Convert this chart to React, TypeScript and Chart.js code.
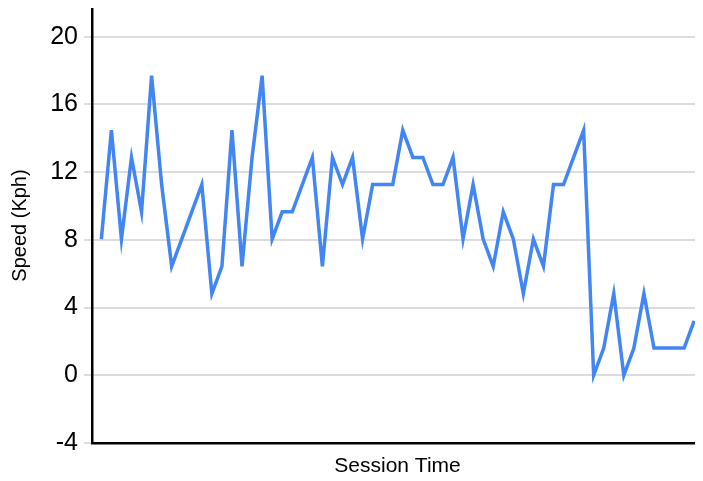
import React, { useEffect, useRef } from "react";
import { Chart, registerables } from "chart.js";

Chart.register(...registerables);

// Speed samples (Kph) over the session, one per sample index
const speeds: number[] = [
  8.05, 14.48, 8.05, 12.87, 9.66, 17.7, 11.27, 6.44, 8.05, 9.66,
  11.27, 4.83, 6.44, 14.48, 6.44, 12.87, 17.7, 8.05, 9.66, 9.66,
  11.27, 12.87, 6.44, 12.87, 11.27, 12.87, 8.05, 11.27, 11.27, 11.27,
  14.48, 12.87, 12.87, 11.27, 11.27, 12.87, 8.05, 11.27, 8.05, 6.44,
  9.66, 8.05, 4.83, 8.05, 6.44, 11.27, 11.27, 12.87, 14.48, 0,
  1.61, 4.83, 0, 1.61, 4.83, 1.61, 1.61, 1.61, 1.61, 3.22,
];

const yTitle = "Speed (Kph)";
const xTitle = "Session Time";
const yMin = -4;
const yMax = 21.7;
const yStep = 4;

const FONT = "'Liberation Sans', Arial, Helvetica, sans-serif";

export default function App() {
  const ref = useRef<HTMLCanvasElement | null>(null);

  useEffect(() => {
    if (!ref.current) return;
    const points = speeds.map((v, i) => ({ x: i, y: v }));
    const chart = new Chart(ref.current, {
      type: "line",
      data: {
        datasets: [
          {
            data: points,
            borderColor: "#4285f4",
            backgroundColor: "#4285f4",
            borderWidth: 3.5,
            pointRadius: 0,
            pointHoverRadius: 0,
            tension: 0,
            fill: false,
          },
        ],
      },
      options: {
        animation: false,
        responsive: false,
        maintainAspectRatio: false,
        layout: { padding: 0 },
        plugins: {
          legend: { display: false },
          tooltip: { enabled: false },
        },
        scales: {
          x: {
            type: "linear",
            min: -0.93,
            max: 59.88,
            ticks: { display: false },
            grid: { display: false, drawTicks: false },
            border: { display: true, color: "#000000", width: 2.5 },
            title: {
              display: true,
              text: xTitle,
              color: "#000000",
              font: { family: FONT, size: 21 },
              padding: { top: 0, bottom: 2 },
            },
            afterFit: (scale: any) => {
              scale.height = 38;
              scale.paddingLeft = 0;
              scale.paddingRight = 0;
            },
          },
          y: {
            type: "linear",
            min: yMin,
            max: yMax,
            ticks: {
              stepSize: yStep,
              includeBounds: false,
              color: "#000000",
              font: { family: FONT, size: 25 },
              padding: 6,
            },
            grid: {
              color: "#dcdcdc",
              lineWidth: 2,
              tickLength: 8,
              drawTicks: true,
            },
            border: { display: true, color: "#000000", width: 2.5 },
            title: {
              display: true,
              text: yTitle,
              color: "#000000",
              font: { family: FONT, size: 20 },
              padding: { top: 0, bottom: 0 },
            },
            afterFit: (scale: any) => {
              scale.width = 84;
              scale.paddingTop = 0;
              scale.paddingBottom = 0;
            },
          },
        },
      },
    });
    return () => chart.destroy();
  }, []);

  return (
    <div style={{ width: 695, height: 473 }}>
      <canvas ref={ref} width={695} height={473} style={{ display: "block" }} />
    </div>
  );
}
